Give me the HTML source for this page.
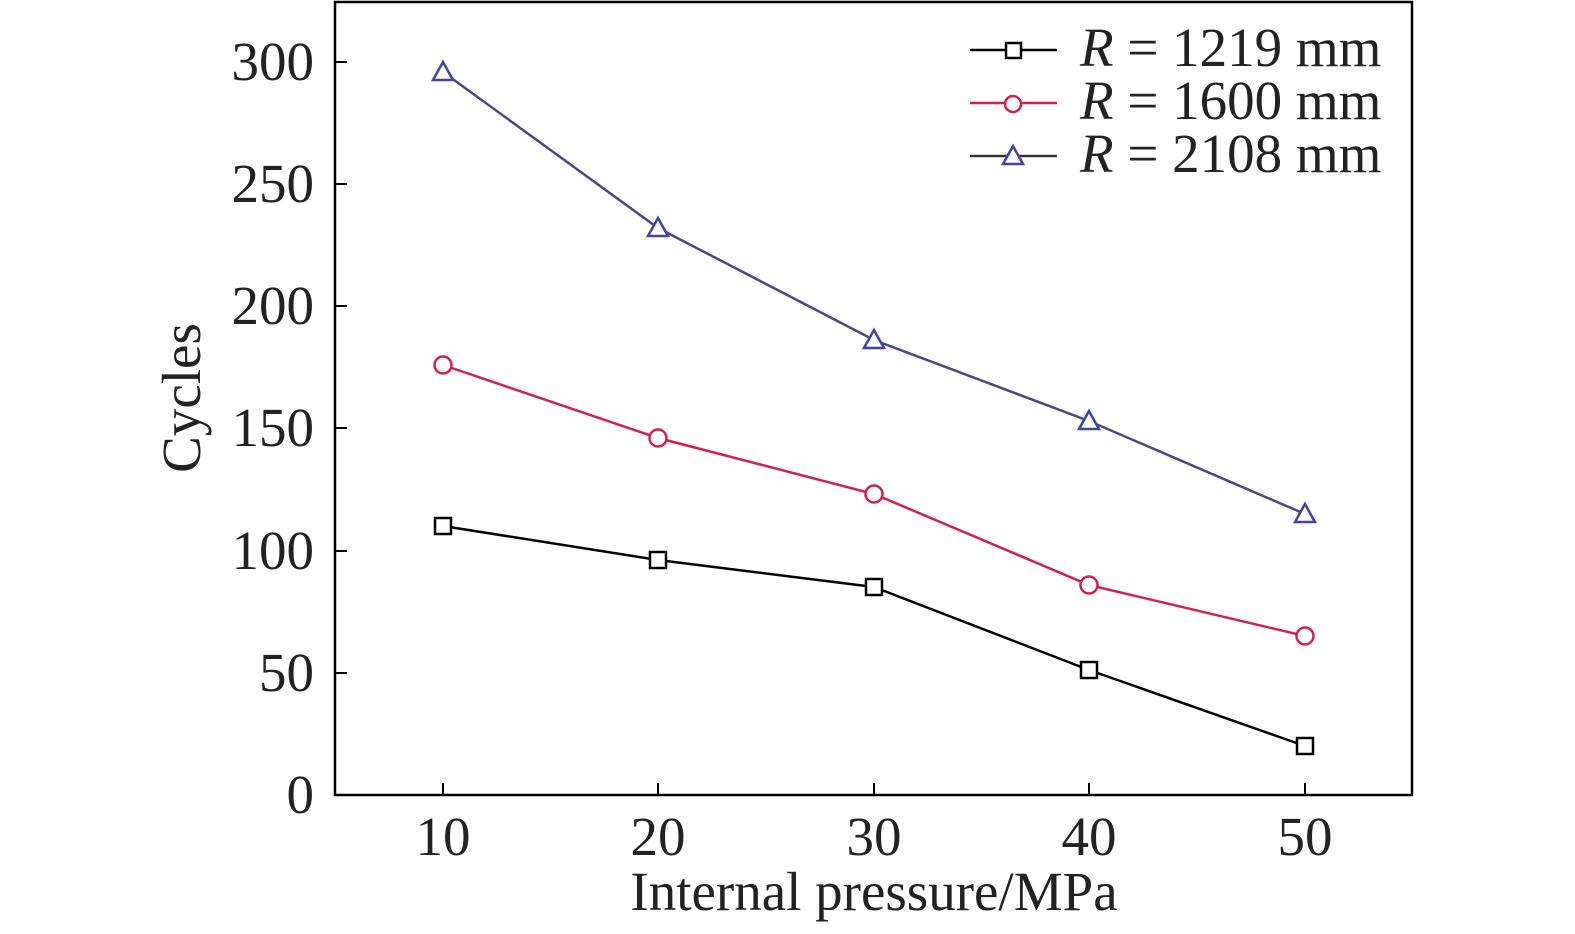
<!DOCTYPE html>
<html><head><style>body{margin:0;background:#fff}svg{display:block}</style></head><body>
<svg width="1575" height="934" viewBox="0 0 1575 934" font-family="Liberation Serif, serif">
<rect width="1575" height="934" fill="#fff"/>
<rect x="335" y="2" width="1077" height="793" fill="none" stroke="#000" stroke-width="2.5"/>
<g stroke="#000" stroke-width="2">
<line x1="335" y1="795" x2="347" y2="795"/><line x1="335" y1="673" x2="347" y2="673"/><line x1="335" y1="551" x2="347" y2="551"/><line x1="335" y1="428" x2="347" y2="428"/><line x1="335" y1="306" x2="347" y2="306"/><line x1="335" y1="184" x2="347" y2="184"/><line x1="335" y1="62" x2="347" y2="62"/>
<line x1="443" y1="795" x2="443" y2="783"/><line x1="658" y1="795" x2="658" y2="783"/><line x1="874" y1="795" x2="874" y2="783"/><line x1="1089" y1="795" x2="1089" y2="783"/><line x1="1305" y1="795" x2="1305" y2="783"/>
</g>
<g font-size="55" text-anchor="end" fill="#222">
<text x="314" y="813">0</text><text x="314" y="691">50</text><text x="314" y="569">100</text><text x="314" y="446">150</text><text x="314" y="324">200</text><text x="314" y="202">250</text><text x="314" y="80">300</text>
</g>
<g font-size="55" text-anchor="middle" fill="#222">
<text x="443" y="855">10</text><text x="658" y="855">20</text><text x="874" y="855">30</text><text x="1089" y="855">40</text><text x="1305" y="855">50</text>
<text x="874" y="910">Internal pressure/MPa</text>
</g>
<text transform="translate(200,398) rotate(-90)" font-size="55" text-anchor="middle" fill="#222">Cycles</text>
<polyline points="443,526 658,560 874,587 1089,670 1305,746" fill="none" stroke="#000" stroke-width="2.5"/>
<g fill="#fff" stroke="#000" stroke-width="2.5">
<rect x="435" y="518" width="16" height="16"/><rect x="650" y="552" width="16" height="16"/><rect x="866" y="579" width="16" height="16"/><rect x="1081" y="662" width="16" height="16"/><rect x="1297" y="738" width="16" height="16"/>
</g>
<polyline points="443,365 658,438 874,494 1089,585 1305,636" fill="none" stroke="#d4204e" stroke-width="2.5"/>
<g fill="#fff" stroke="#d4204e" stroke-width="2.5">
<circle cx="443" cy="365" r="8.5"/><circle cx="658" cy="438" r="8.5"/><circle cx="874" cy="494" r="8.5"/><circle cx="1089" cy="585" r="8.5"/><circle cx="1305" cy="636" r="8.5"/>
</g>
<polyline points="443,72 658,228 874,340 1089,421 1305,514" fill="none" stroke="#4a4a80" stroke-width="2.5"/>
<g fill="#fff" stroke="#4444a0" stroke-width="2.5">
<polygon points="443,62 433,80 453,80"/><polygon points="658,218 648,236 668,236"/><polygon points="874,330 864,348 884,348"/><polygon points="1089,411 1079,429 1099,429"/><polygon points="1305,504 1295,522 1315,522"/>
</g>
<line x1="970" y1="50" x2="1057" y2="50" stroke="#000" stroke-width="2.5"/>
<rect x="1006" y="43" width="15" height="15" fill="#fff" stroke="#000" stroke-width="2.5"/>
<line x1="970" y1="103" x2="1057" y2="103" stroke="#d4204e" stroke-width="2.5"/>
<circle cx="1013" cy="104" r="8" fill="#fff" stroke="#d4204e" stroke-width="2.5"/>
<line x1="970" y1="156" x2="1057" y2="156" stroke="#333" stroke-width="2.5"/>
<polygon points="1013,146 1003,164 1023,164" fill="#fff" stroke="#4444a0" stroke-width="2.5"/>
<g font-size="55" fill="#222">
<text x="1080" y="66"><tspan font-style="italic">R</tspan> = 1219 mm</text>
<text x="1080" y="119"><tspan font-style="italic">R</tspan> = 1600 mm</text>
<text x="1080" y="172"><tspan font-style="italic">R</tspan> = 2108 mm</text>
</g>
</svg>
</body></html>
